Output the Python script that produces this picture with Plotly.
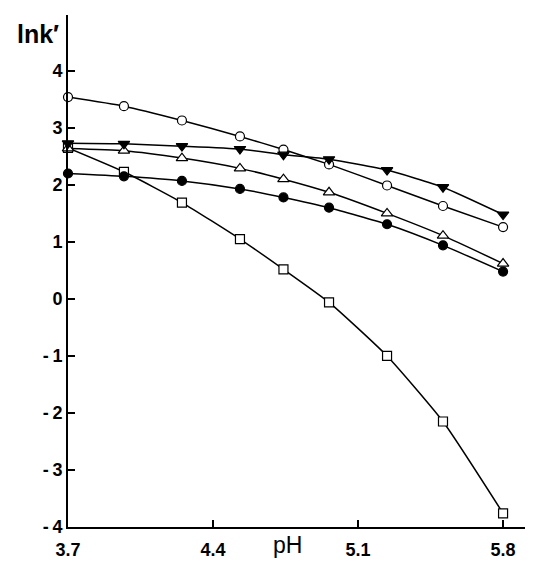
import plotly.graph_objects as go

ph = [3.7, 3.97, 4.25, 4.53, 4.74, 4.96, 5.24, 5.51, 5.8]
open_circle = [3.54, 3.38, 3.13, 2.85, 2.62, 2.36, 1.99, 1.63, 1.26]
tri_down = [2.73, 2.72, 2.68, 2.63, 2.53, 2.45, 2.26, 1.96, 1.48]
tri_up = [2.64, 2.60, 2.47, 2.29, 2.10, 1.87, 1.50, 1.11, 0.62]
filled_circle = [2.20, 2.15, 2.07, 1.93, 1.78, 1.60, 1.31, 0.94, 0.48]
square = [2.65, 2.23, 1.69, 1.05, 0.52, -0.06, -1.00, -2.15, -3.76]

x_ticks = [3.7, 4.4, 5.1, 5.8]
x_ticktext = ["3.7", "4.4", "5.1", "5.8"]
y_ticks = [-4, -3, -2, -1, 0, 1, 2, 3, 4]
y_ticktext = ["-\u20094", "-\u20093", "-\u20092", "-\u20091", "0", "1", "2", "3", "4"]

series = [
    (square, "square", "white", 9),
    (filled_circle, "circle", "black", 9),
    (tri_up, "triangle-up", "white", 10),
    (open_circle, "circle", "white", 9),
    (tri_down, "triangle-down", "black", 10),
]

FAM = "Liberation Sans, Arial, sans-serif"
fig = go.Figure()
for vals, sym, fill, sz in series:
    fig.add_trace(go.Scatter(
        x=ph, y=vals, mode="lines+markers",
        line=dict(color="black", width=1.5, shape="spline", smoothing=0.5),
        marker=dict(symbol=sym, size=sz, color=fill, line=dict(color="black", width=1.2)),
        cliponaxis=False, showlegend=False,
    ))

tickfont = dict(size=18, family=FAM, color="black", weight="bold")
fig.update_layout(
    width=525, height=554,
    margin=dict(l=60, r=3, t=7, b=35),
    plot_bgcolor="white", paper_bgcolor="white",
    font=dict(family=FAM, color="black"),
    xaxis=dict(range=[3.7, 5.93], tickvals=x_ticks, ticktext=x_ticktext,
               showline=True, linecolor="black", linewidth=2, showgrid=False, zeroline=False,
               ticks="inside", ticklen=7, tickwidth=1.5, tickcolor="black",
               ticklabelstandoff=5, tickfont=tickfont, automargin=False),
    yaxis=dict(range=[-4, 4.98], tickvals=y_ticks, ticktext=y_ticktext,
               showline=True, linecolor="black", linewidth=2, showgrid=False, zeroline=False,
               ticks="inside", ticklen=7, tickwidth=1.5, tickcolor="black",
               tickfont=tickfont, automargin=False),
    annotations=[
        dict(text="lnk′", xref="paper", yref="paper", x=-0.066, y=0.963,
             xanchor="center", yanchor="middle",
             showarrow=False, font=dict(size=25, weight="bold", family=FAM, color="black")),
        dict(text="pH", xref="paper", yref="paper", x=0.476, y=-0.064,
             xanchor="center", yanchor="bottom",
             showarrow=False, font=dict(size=23, family=FAM, color="black")),
    ],
)

fig.write_html("out.html")
